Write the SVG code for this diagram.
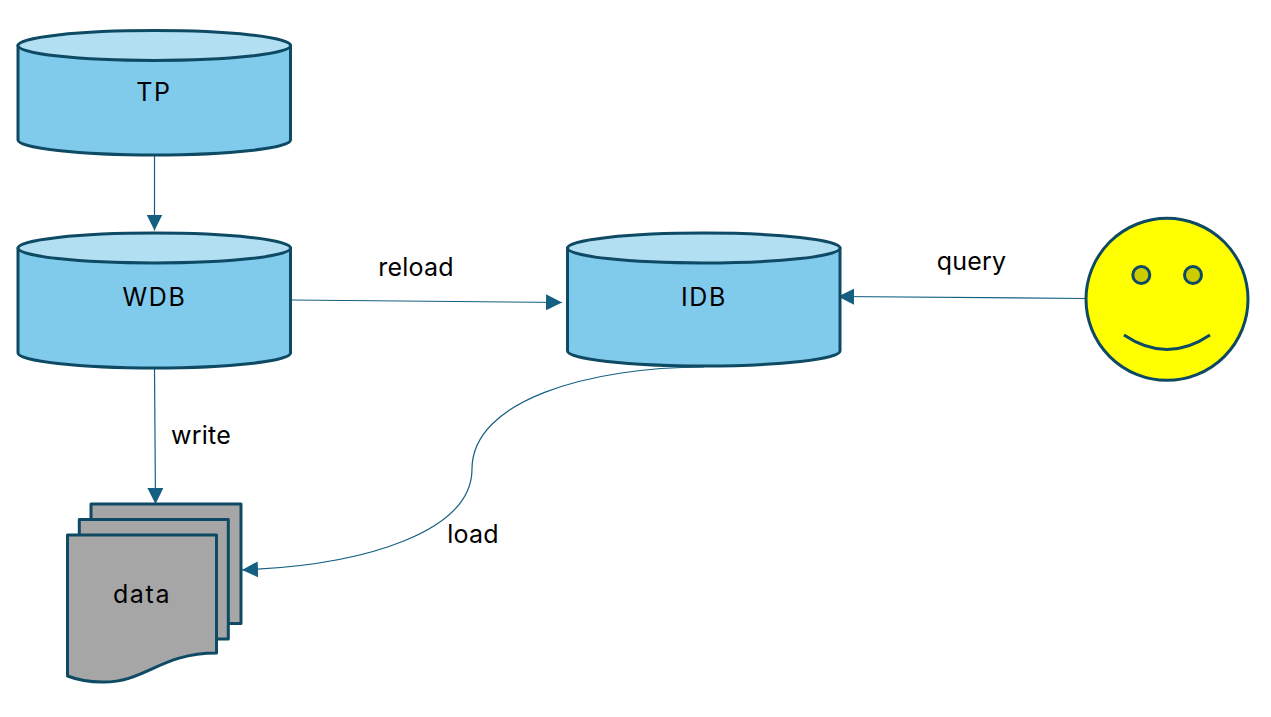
<svg xmlns="http://www.w3.org/2000/svg" width="1271" height="717" viewBox="0 0 1271 717">
<style>
text{font-family:"Inter","Open Sans","Liberation Sans",sans-serif;font-size:25px;fill:#000;text-anchor:middle;letter-spacing:.2px}
.n{letter-spacing:1.6px}
.s{stroke:#0e4a63;stroke-width:3;stroke-linejoin:round}
.body{fill:#80caeb}
.lid{fill:#b3dff3}
.doc{fill:#a6a6a6}
.c{fill:none;stroke:#156082;stroke-width:1.2}
</style>
<defs>
<marker id="a" markerUnits="userSpaceOnUse" markerWidth="17" markerHeight="16" refX="16" refY="8" orient="auto"><path d="M0 0L16 8L0 16Z" fill="#156082"/></marker>
</defs>
<rect width="1271" height="717" fill="#fff"/>
<g id="connectors">
<path class="c" marker-end="url(#a)" d="M154.500 155V230.500"/>
<path class="c" marker-end="url(#a)" d="M291 300L562 302.500"/>
<path class="c" marker-end="url(#a)" d="M1085 298.500L838 296.500"/>
<path class="c" marker-end="url(#a)" d="M154.500 369L155.500 504"/>
<path class="c" marker-end="url(#a)" d="M704 367C590 367 472 400 472 469C472 530 370 565 242 570"/>
</g>
<g id="tp">
<path class="s body" d="M18 45V140C18 148 79 155 154.500 155S290.500 148 290.500 140V45Z"/>
<ellipse class="s lid" cx="154.300" cy="45.500" rx="136.300" ry="15"/>
<text class="n" x="154" y="100.500">TP</text>
</g>
<g id="wdb">
<path class="s body" d="M18 248V353C18 361 79 368 154.500 368S290.500 361 290.500 353V248Z"/>
<ellipse class="s lid" cx="154.300" cy="248" rx="136.300" ry="15"/>
<text class="n" x="154.500" y="306">WDB</text>
</g>
<g id="idb">
<path class="s body" d="M567.500 248V351C567.500 359 628 366 704 366S840 359 840 351V248Z"/>
<ellipse class="s lid" cx="703.800" cy="248" rx="136.300" ry="15"/>
<text class="n" x="704" y="305.500">IDB</text>
</g>
<g id="data">
<rect class="s doc" x="91" y="504" width="150" height="119.500"/>
<rect class="s doc" x="79.300" y="519.500" width="149" height="119.500"/>
<path class="s doc" d="M67.500 535H216.500V653C160 653 145 683 102 682C88 682 78 680 67.500 676Z"/>
<text class="n" x="142" y="603">data</text>
</g>
<g id="user">
<circle class="s" cx="1167" cy="299.300" r="81" fill="#ff0"/>
<circle class="s" cx="1141.300" cy="275" r="8.500" fill="#cc0"/>
<circle class="s" cx="1193" cy="275" r="8.500" fill="#cc0"/>
<path class="s" fill="none" d="M1124 335Q1167 364 1210 335"/>
</g>
<g id="labels">
<text x="416" y="275.500">reload</text>
<text x="971.500" y="270">query</text>
<text x="201" y="444">write</text>
<text x="473" y="542.500">load</text>
</g>
</svg>
